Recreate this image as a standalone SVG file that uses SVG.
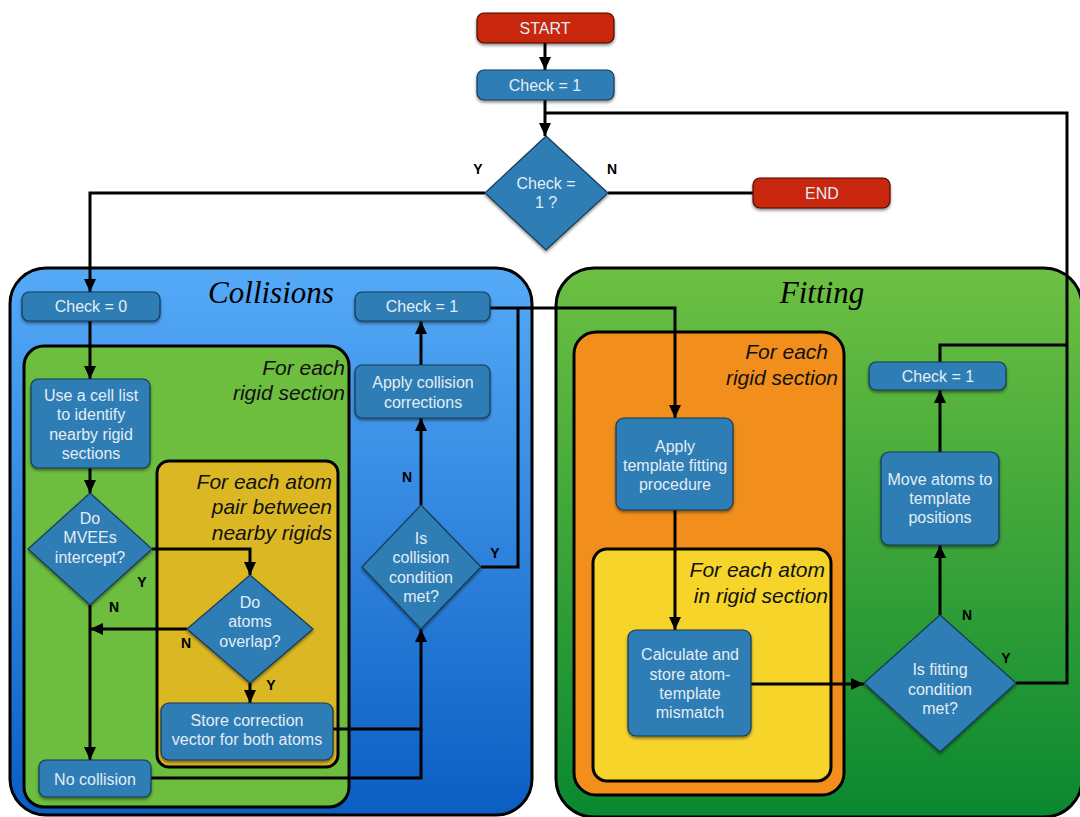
<svg xmlns="http://www.w3.org/2000/svg" width="1080" height="817" viewBox="0 0 1080 817">
<defs>
<linearGradient id="gBlue" x1="0" y1="0" x2="0" y2="1">
<stop offset="0" stop-color="#55aaf8"/>
<stop offset="1" stop-color="#0b5ec2"/>
</linearGradient>
<linearGradient id="gGreen" x1="0" y1="0" x2="0" y2="1">
<stop offset="0" stop-color="#6dc042"/>
<stop offset="1" stop-color="#0a8830"/>
</linearGradient>
<filter id="sh" x="-20%" y="-20%" width="140%" height="150%">
<feDropShadow dx="0" dy="2" stdDeviation="1.5" flood-color="#000" flood-opacity="0.45"/>
</filter>
<marker id="ah" markerUnits="userSpaceOnUse" markerWidth="14" markerHeight="14" refX="13" refY="7" orient="auto">
<path d="M0,1 L13,7 L0,13 z" fill="#000"/>
</marker>
<style>
.cont{stroke:#000;stroke-width:3}
.node{fill:#2f7db4;stroke:#173a55;stroke-width:1.2;filter:url(#sh)}
.red{fill:#c8260a;stroke:#4a0d02;stroke-width:1.2;filter:url(#sh)}
.t{font-family:"Liberation Sans",Arial,sans-serif;font-size:16px;fill:#e4edf5;text-anchor:middle}
.lab{font-family:"Liberation Sans",Arial,sans-serif;font-size:14px;font-weight:bold;fill:#000;text-anchor:middle}
.title{font-family:"Liberation Serif","Times New Roman",serif;font-style:italic;font-size:31px;fill:#000;text-anchor:middle}
.fe{font-family:"Liberation Sans",Arial,sans-serif;font-style:italic;font-size:21px;fill:#111;text-anchor:end}
.c{fill:none;stroke:#000;stroke-width:3}
.a{marker-end:url(#ah)}
</style>
</defs>

<g id="collisions-container">
<rect class="cont" x="10" y="268" width="522" height="547" rx="36" fill="url(#gBlue)"/>
<text class="title" x="271" y="303">Collisions</text>
</g>
<g id="collisions-rigid-loop">
<rect class="cont" x="24" y="346" width="325" height="461" rx="20" fill="#6dbd3f"/>
<text class="fe" x="345" y="375">For each</text>
<text class="fe" x="345" y="400">rigid section</text>
</g>
<g id="collisions-atom-loop">
<rect class="cont" x="157" y="461" width="181" height="306" rx="12" fill="#dbb823"/>
<text class="fe" x="332" y="489">For each atom</text>
<text class="fe" x="332" y="514">pair between</text>
<text class="fe" x="332" y="540">nearby rigids</text>
</g>

<g id="fitting-container">
<rect class="cont" x="556" y="268" width="526" height="549" rx="38" fill="url(#gGreen)"/>
<text class="title" x="822" y="303">Fitting</text>
</g>
<g id="fitting-rigid-loop">
<rect class="cont" x="574" y="332" width="270" height="463" rx="22" fill="#f28f1c"/>
<text class="fe" x="828" y="359">For each</text>
<text class="fe" x="838" y="385">rigid section</text>
</g>
<g id="fitting-atom-loop">
<rect class="cont" x="593" y="549" width="238" height="232" rx="14" fill="#f6d42a"/>
<text class="fe" x="825" y="577">For each atom</text>
<text class="fe" x="828" y="603">in rigid section</text>
</g>

<g id="connectors">
<path class="c a" d="M545,43 V70"/>
<path class="c a" d="M545,100 V136"/>
<path class="c" d="M1016,683 H1067 V113 H545"/>
<path class="c" d="M940,362 V345 H1067"/>
<path class="c a" d="M485,193 H90 V292"/>
<path class="c" d="M608,193 H753"/>
<path class="c a" d="M90,321 V379"/>
<path class="c a" d="M90,468 V493"/>
<path class="c a" d="M152,549 H250 V575"/>
<path class="c a" d="M90,605 V760"/>
<path class="c a" d="M187,629 H90"/>
<path class="c a" d="M250,683 V703"/>
<path class="c a" d="M333,729 H421 V629"/>
<path class="c" d="M151,778 H421 V729"/>
<path class="c a" d="M421,505 V418"/>
<path class="c a" d="M421,365 V321"/>
<path class="c" d="M481,567 H518 V308"/>
<path class="c a" d="M490,308 H675 V418"/>
<path class="c a" d="M675,510 V630"/>
<path class="c a" d="M751,684 H864"/>
<path class="c a" d="M940,615 V545"/>
<path class="c a" d="M940,452 V390"/>
<text class="lab" x="478" y="174">Y</text>
<text class="lab" x="612" y="174">N</text>
<text class="lab" x="142" y="587">Y</text>
<text class="lab" x="114" y="612">N</text>
<text class="lab" x="186" y="648">N</text>
<text class="lab" x="271" y="690">Y</text>
<text class="lab" x="407" y="482">N</text>
<text class="lab" x="495" y="558">Y</text>
<text class="lab" x="967" y="620">N</text>
<text class="lab" x="1006" y="663">Y</text>
</g>

<g id="start">
<rect class="red" x="477" y="13" width="137" height="30" rx="7"/>
<text class="t" x="545" y="34">START</text>
</g>
<g id="check-1-top">
<rect class="node" x="477" y="70" width="137" height="30" rx="7"/>
<text class="t" x="545" y="91">Check = 1</text>
</g>
<g id="check-decision">
<polygon class="node" points="546,136 608,193 546,250 485,193"/>
<text class="t" x="546" y="189">Check =</text>
<text class="t" x="546" y="208">1 ?</text>
</g>
<g id="end">
<rect class="red" x="753" y="178" width="137" height="30" rx="7"/>
<text class="t" x="822" y="199">END</text>
</g>

<g id="check-0">
<rect class="node" x="22" y="292" width="138" height="29" rx="7"/>
<text class="t" x="91" y="312">Check = 0</text>
</g>
<g id="cell-list">
<rect class="node" x="31" y="379" width="119" height="89" rx="7"/>
<text class="t" x="91" y="401">Use a cell list</text>
<text class="t" x="91" y="420">to identify</text>
<text class="t" x="91" y="440">nearby rigid</text>
<text class="t" x="91" y="459">sections</text>
</g>
<g id="mvees-decision">
<polygon class="node" points="90,493 152,549 90,605 28,549"/>
<text class="t" x="90" y="524">Do</text>
<text class="t" x="90" y="543">MVEEs</text>
<text class="t" x="90" y="563">intercept?</text>
</g>
<g id="overlap-decision">
<polygon class="node" points="250,575 313,629 250,683 187,629"/>
<text class="t" x="250" y="608">Do</text>
<text class="t" x="250" y="627">atoms</text>
<text class="t" x="250" y="647">overlap?</text>
</g>
<g id="store-correction">
<rect class="node" x="161" y="703" width="172" height="57" rx="8"/>
<text class="t" x="247" y="726">Store correction</text>
<text class="t" x="247" y="745">vector for both atoms</text>
</g>
<g id="no-collision">
<rect class="node" x="39" y="760" width="112" height="37" rx="7"/>
<text class="t" x="95" y="785">No collision</text>
</g>
<g id="collision-decision">
<polygon class="node" points="421,505 481,567 421,629 362,567"/>
<text class="t" x="421" y="544">Is</text>
<text class="t" x="421" y="563">collision</text>
<text class="t" x="421" y="583">condition</text>
<text class="t" x="421" y="602">met?</text>
</g>
<g id="apply-collision">
<rect class="node" x="355" y="365" width="135" height="53" rx="7"/>
<text class="t" x="423" y="388">Apply collision</text>
<text class="t" x="423" y="408">corrections</text>
</g>
<g id="check-1-collisions">
<rect class="node" x="355" y="292" width="135" height="29" rx="7"/>
<text class="t" x="422" y="312">Check = 1</text>
</g>

<g id="apply-template">
<rect class="node" x="616" y="418" width="117" height="92" rx="8"/>
<text class="t" x="675" y="452">Apply</text>
<text class="t" x="675" y="471">template fitting</text>
<text class="t" x="675" y="490">procedure</text>
</g>
<g id="calculate-mismatch">
<rect class="node" x="628" y="630" width="123" height="106" rx="8"/>
<text class="t" x="690" y="660">Calculate and</text>
<text class="t" x="690" y="680">store atom-</text>
<text class="t" x="690" y="699">template</text>
<text class="t" x="690" y="718">mismatch</text>
</g>
<g id="fitting-decision">
<polygon class="node" points="940,615 1016,683 940,752 864,683"/>
<text class="t" x="940" y="675">Is fitting</text>
<text class="t" x="940" y="695">condition</text>
<text class="t" x="940" y="714">met?</text>
</g>
<g id="move-atoms">
<rect class="node" x="881" y="452" width="118" height="93" rx="8"/>
<text class="t" x="940" y="485">Move atoms to</text>
<text class="t" x="940" y="504">template</text>
<text class="t" x="940" y="523">positions</text>
</g>
<g id="check-1-fitting">
<rect class="node" x="869" y="362" width="137" height="28" rx="7"/>
<text class="t" x="938" y="382">Check = 1</text>
</g>
</svg>
